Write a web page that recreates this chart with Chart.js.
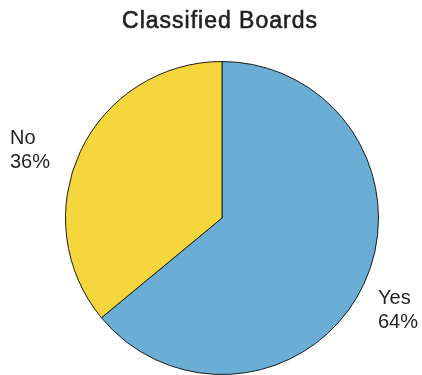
<!DOCTYPE html>
<html>
<head>
<meta charset="utf-8">
<script src="https://cdn.jsdelivr.net/npm/chart.js@4"></script>
<style>
  html, body { margin: 0; padding: 0; background: #fff; }
  canvas { display: block; }
</style>
</head>
<body>
<canvas id="boardsChart" width="422" height="375"></canvas>
<script>
const chartTitle = 'Classified Boards';
const answerLabels = ['Yes', 'No'];
const answerShares = [64, 36];
const sliceColors = ['#6aaed6', '#f5d63d'];

// slice captions sit outside the pie, one per answer
const captionSpots = [
  { x: 378, y: 298 },
  { x: 10, y: 138 }
];

const sideText = {
  id: 'sideText',
  afterDraw(chart) {
    const c = chart.ctx;
    c.save();
    c.fillStyle = '#231f20';
    c.strokeStyle = '#231f20';
    c.textBaseline = 'middle';
    c.textAlign = 'center';
    c.font = '23px "Liberation Sans", Arial, sans-serif';
    c.letterSpacing = '1px';
    c.lineWidth = 0.6;
    c.fillText(chartTitle, 220, 22);
    c.strokeText(chartTitle, 220, 22);
    c.letterSpacing = '0px';
    c.textAlign = 'left';
    c.font = '20px "Liberation Sans", Arial, sans-serif';
    answerLabels.forEach((lab, i) => {
      const p = captionSpots[i];
      c.fillText(lab, p.x, p.y);
      c.fillText(answerShares[i] + '%', p.x, p.y + 24);
    });
    c.restore();
  }
};

new Chart(document.getElementById('boardsChart'), {
  type: 'pie',
  data: {
    labels: answerLabels,
    datasets: [{
      data: answerShares,
      backgroundColor: sliceColors,
      borderColor: '#1a1a1a',
      borderWidth: 1
    }]
  },
  options: {
    responsive: false,
    animation: false,
    devicePixelRatio: 1,
    layout: { padding: { left: 65, right: 43, top: 61, bottom: 0 } },
    plugins: {
      legend: { display: false },
      tooltip: { enabled: false },
      title: { display: false }
    }
  },
  plugins: [sideText]
});
</script>
</body>
</html>
